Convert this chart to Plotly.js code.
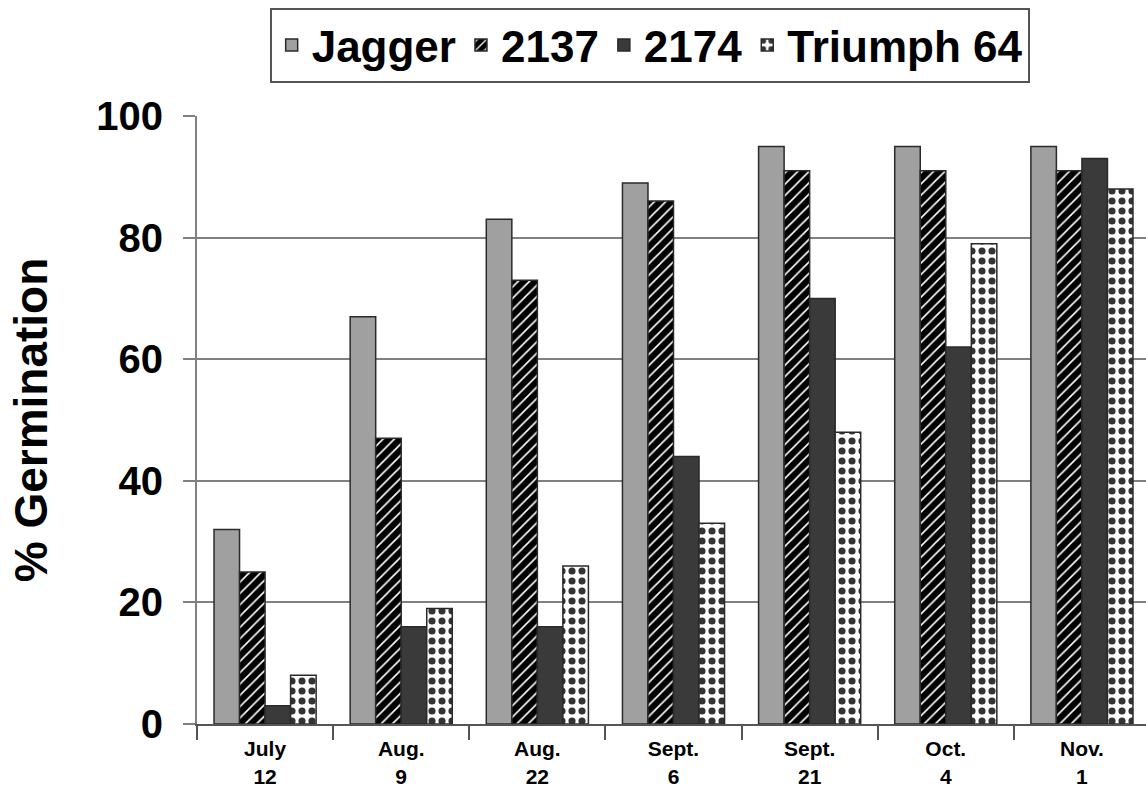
<!DOCTYPE html>
<html>
<head>
<meta charset="utf-8">
<script src="https://cdn.plot.ly/plotly-3.0.1.min.js"></script>
<style>html,body{margin:0;padding:0;overflow:hidden;background:#fff;}</style>
</head>
<body>
<div id="chart" style="width:1150px;height:791px;"></div>
<script>
const categories = ["July<br>12", "Aug.<br>9", "Aug.<br>22", "Sept.<br>6", "Sept.<br>21", "Oct.<br>4", "Nov.<br>1"];
const seriesNames = ["Jagger", "2137", "2174", "Triumph 64"];
const jagger   = [32, 67, 83, 89, 95, 95, 95];
const s2137    = [25, 47, 73, 86, 91, 91, 91];
const s2174    = [3, 16, 16, 44, 70, 62, 93];
const triumph  = [8, 19, 26, 33, 48, 79, 88];
const yTicks = [0, 20, 40, 60, 80, 100];

const fontFam = "Liberation Sans, Arial, sans-serif";
const outline = {color: "#2a2a2a", width: 1.5};

const traces = [
  {type: "bar", name: seriesNames[0], x: categories, y: jagger,
   marker: {color: "#a0a0a0", line: outline}},
  {type: "bar", name: seriesNames[1], x: categories, y: s2137,
   marker: {color: "#000", line: outline,
            pattern: {shape: "/", bgcolor: "#000000", fgcolor: "#ffffff", fgopacity: 1, size: 8, solidity: 0.2}}},
  {type: "bar", name: seriesNames[2], x: categories, y: s2174,
   marker: {color: "#3a3a3a", line: outline}},
  {type: "bar", name: seriesNames[3], x: categories, y: triumph,
   marker: {color: "#ffffff", line: outline,
            pattern: {shape: ".", bgcolor: "#ffffff", fgcolor: "#333333", fgopacity: 1, size: 10, solidity: 0.4}}}
];

const layout = {
  width: 1150, height: 791,
  margin: {l: 197, r: 0, t: 116, b: 67},
  paper_bgcolor: "#fff", plot_bgcolor: "#fff",
  barmode: "group", bargap: 0.25, bargroupgap: 0,
  font: {family: fontFam, color: "#000"},
  showlegend: true,
  legend: {
    orientation: "h", xref: "paper", yref: "paper",
    x: 0.475, xanchor: "center", y: 1.178, yanchor: "top",
    font: {size: 44, family: fontFam, weight: "bold", color: "#000"},
    bordercolor: "#555", borderwidth: 2, bgcolor: "#fff",
    traceorder: "normal"
  },
  xaxis: {
    type: "category",
    showline: true, linecolor: "#555", linewidth: 2,
    ticks: "outside", tickson: "boundaries", ticklen: 14, tickcolor: "#555", tickwidth: 2,
    tickfont: {size: 21, family: fontFam, weight: "bold", color: "#000"},
    ticklabelstandoff: 5,
    showgrid: false, zeroline: false, automargin: false
  },
  yaxis: {
    range: [0, 100], tickvals: yTicks, ticktext: yTicks.map(String),
    showline: true, linecolor: "#808080", linewidth: 2,
    ticks: "outside", ticklen: 12, tickcolor: "#808080", tickwidth: 2,
    showgrid: true, gridcolor: "#808080", gridwidth: 2,
    zeroline: false,
    tickfont: {size: 40, family: fontFam, weight: "bold", color: "#000"},
    ticklabelstandoff: 12,
    title: {text: "% Germination", font: {size: 46, family: fontFam, weight: "bold", color: "#000"}, standoff: 34},
    automargin: false
  }
};

Plotly.newPlot("chart", traces, layout, {displayModeBar: false, responsive: false});
</script>
</body>
</html>
